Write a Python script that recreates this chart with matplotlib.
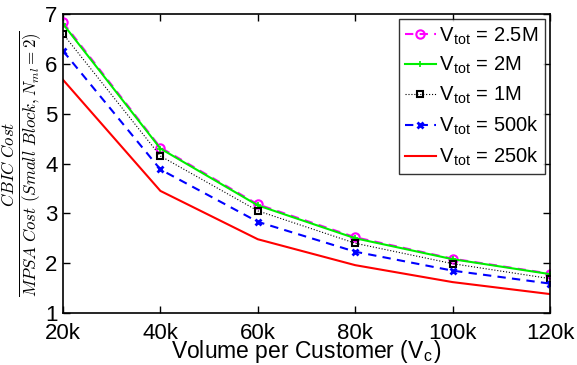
import matplotlib
matplotlib.use("Agg")
import matplotlib.pyplot as plt

plt.rcParams['font.family'] = ['Liberation Sans', 'DejaVu Sans']
plt.rcParams['mathtext.fontset'] = 'cm'

x_k = [20, 40, 60, 80, 100, 120]
x_labels = ['20k', '40k', '60k', '80k', '100k', '120k']
v_2_5M = [6.83, 4.32, 3.18, 2.52, 2.09, 1.79]
v_2M = [6.80, 4.30, 3.16, 2.50, 2.08, 1.78]
v_1M = [6.60, 4.15, 3.05, 2.40, 1.99, 1.69]
v_500k = [6.26, 3.88, 2.83, 2.23, 1.85, 1.59]
v_250k = [5.68, 3.45, 2.48, 1.96, 1.62, 1.38]
series_labels = ['2.5M', '2M', '1M', '500k', '250k']

fig = plt.figure(figsize=(5.77, 3.65), dpi=100)
ax = fig.add_axes([63/577, 1-313/365, (550-63)/577, (313-14)/365])

ax.plot(x_k, v_2_5M, color='magenta', ls=(0, (4, 3)), lw=1.5, marker='o', ms=6, mfc='none', mew=1.5,
        label=r'V$_{\mathregular{tot}}$ = ' + series_labels[0])
ax.plot(x_k, v_2M, color='#00ee00', ls='-', lw=1.5, marker='+', ms=5, mew=1.2,
        label=r'V$_{\mathregular{tot}}$ = ' + series_labels[1])
ax.plot(x_k, v_1M, color='black', ls=':', lw=0.8, marker='s', ms=5, mfc='none', mew=1.5,
        label=r'V$_{\mathregular{tot}}$ = ' + series_labels[2])
ax.plot(x_k, v_500k, color='blue', ls=(0, (4, 3)), lw=1.5, marker='x', ms=4, mew=2,
        label=r'V$_{\mathregular{tot}}$ = ' + series_labels[3])
ax.plot(x_k, v_250k, color='red', ls='-', lw=1.5,
        label=r'V$_{\mathregular{tot}}$ = ' + series_labels[4])

ax.set_xlim(20, 120)
ax.set_ylim(1, 7)
ax.set_xticks(x_k)
ax.set_xticklabels(x_labels)
ax.set_yticks([1, 2, 3, 4, 5, 6, 7])
ax.tick_params(direction='in', top=True, right=True, labelsize=16, length=5, width=1)
ax.tick_params(axis='x', pad=7)
ax.tick_params(axis='y', pad=4)
for s in ax.spines.values():
    s.set_linewidth(1.2)

ax.set_xlabel(r'Volume per Customer (V$_{\mathregular{c}}$)', fontsize=16.5, labelpad=-4)
ax.set_ylabel(r'$\frac{CBIC\ Cost}{MPSA\ Cost\ (Small\ Block, N_{ml}=2)}$', fontsize=17.5)
ax.yaxis.set_label_coords(-0.038, 0.5)

leg = ax.legend(loc='upper right', fontsize=14.5, frameon=True, fancybox=False, edgecolor='black',
                handlelength=1.55, handletextpad=0.15, borderpad=0.3, labelspacing=0.42,
                borderaxespad=0.25)
leg.get_frame().set_linewidth(1.0)

fig.savefig('out.png', dpi=100)
